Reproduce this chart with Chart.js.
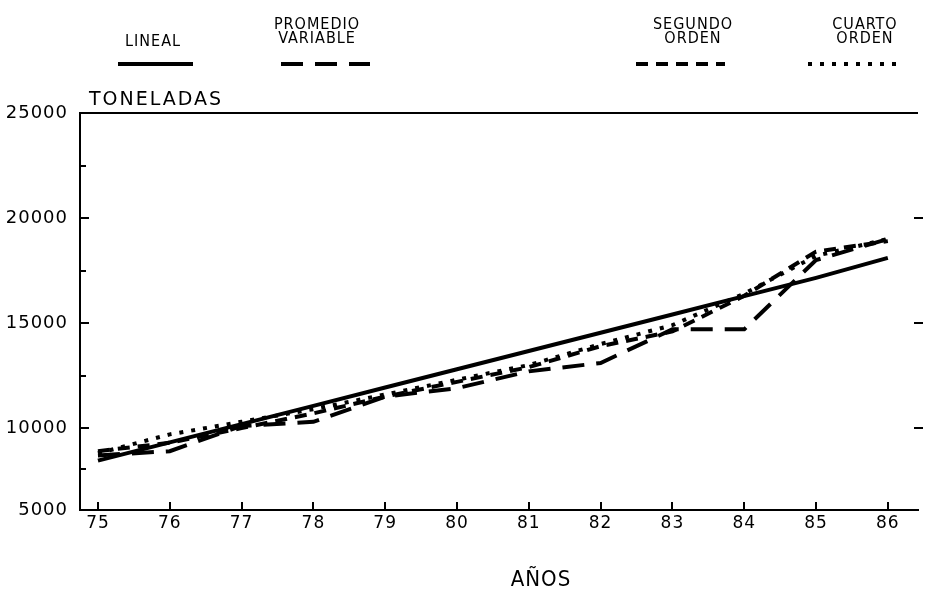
<!DOCTYPE html>
<html><head><meta charset="utf-8">
<script src="https://cdn.jsdelivr.net/npm/chart.js@4"></script>
<style>html,body{margin:0;padding:0;background:#fff}#wrap{width:928px;height:593px}</style>
</head><body><div id="wrap"><canvas id="c" width="928" height="593"></canvas></div>
<script>
const years = [75, 76, 77, 78, 79, 80, 81, 82, 83, 84, 85, 86];
const lineal = [8450, 9320, 10190, 11060, 11930, 12800, 13670, 14540, 15410, 16280, 17150, 18100];
const promedioVariable = [8700, 8900, 10100, 10300, 11500, 11900, 12700, 13100, 14700, 14700, 18000, 19000];
const segundoOrden = [8900, 9300, 10000, 10700, 11500, 12200, 12900, 13900, 14600, 16300, 18400, 18900];
const cuartoOrden = [8800, 9700, 10300, 10900, 11600, 12300, 13000, 14000, 14900, 16400, 18200, 19000];
const yTickLabels = ['5000', '10000', '15000', '20000', '25000'];
// the printed axis floor sits closer to 10000 than a true 5000 would (as in the source figure)
const yFloor = 6100;
const yTickValues = [yFloor, 10000, 15000, 20000, 25000];
const yLabel = 'TONELADAS';
const xLabel = 'AÑOS';

const pts = arr => arr.map((v, i) => ({x: years[i], y: v}));

const legendLayout = [
  {lines: ['LINEAL'], cx: 153, x0: 118, x1: 193},
  {lines: ['PROMEDIO', 'VARIABLE'], cx: 317, x0: 281, x1: 370},
  {lines: ['SEGUNDO', 'ORDEN'], cx: 693, x0: 636, x1: 725},
  {lines: ['CUARTO', 'ORDEN'], cx: 865, x0: 808, x1: 897}
];

const decor = {
  id: 'decor',
  beforeDraw(chart) { chart.ctx.letterSpacing = '1px'; },
  afterDraw(chart) {
    const {ctx, chartArea: a, scales: {x, y}} = chart;
    ctx.save();
    ctx.strokeStyle = '#000'; ctx.fillStyle = '#000'; ctx.lineWidth = 2; ctx.lineCap = 'butt';
    ctx.beginPath(); ctx.moveTo(a.left, a.top); ctx.lineTo(a.right, a.top); ctx.stroke();
    const minor = [(yFloor + 10000) / 2, 12500, 17500, 22500];
    [...minor, 10000, 15000, 20000].forEach(v => {
      const py = Math.round(y.getPixelForValue(v));
      const len = v % 5000 === 0 ? 9 : 6;
      ctx.beginPath(); ctx.moveTo(a.left, py); ctx.lineTo(a.left + len, py); ctx.stroke();
    });
    [10000, 15000, 20000].forEach(v => {
      const py = Math.round(y.getPixelForValue(v));
      ctx.beginPath(); ctx.moveTo(a.right - 4, py); ctx.lineTo(a.right + 5, py); ctx.stroke();
    });
    years.forEach(yr => {
      const px = Math.round(x.getPixelForValue(yr));
      ctx.beginPath(); ctx.moveTo(px, a.bottom); ctx.lineTo(px, a.bottom - 8); ctx.stroke();
    });
    ctx.letterSpacing = '2px';
    ctx.font = '19px "DejaVu Sans"';
    ctx.textAlign = 'left'; ctx.textBaseline = 'alphabetic';
    ctx.fillText(yLabel, a.left + 9, a.top - 8);
    ctx.letterSpacing = '1px';
    ctx.font = '22px "DejaVu Sans Condensed"';
    ctx.textAlign = 'center';
    ctx.fillText(xLabel, 541, 586);
    ctx.font = '16px "DejaVu Sans Condensed"';
    ctx.letterSpacing = '1px';
    chart.data.datasets.forEach((ds, i) => {
      const L = legendLayout[i];
      const rows = L.lines;
      const baseY = rows.length === 1 ? 46 : 29;
      rows.forEach((t, k) => ctx.fillText(t, L.cx, baseY + k * 14));
      ctx.save();
      ctx.lineWidth = 4;
      ctx.setLineDash(ds.borderDash || []);
      ctx.beginPath(); ctx.moveTo(L.x0, 64); ctx.lineTo(L.x1, 64); ctx.stroke();
      ctx.restore();
    });
    ctx.restore();
  }
};

const common = {borderColor: '#000', backgroundColor: '#000', borderWidth: 4, pointRadius: 0, tension: 0, fill: false};

new Chart(document.getElementById('c'), {
  type: 'line',
  data: {
    datasets: [
      {...common, label: 'LINEAL', data: pts(lineal), borderDash: []},
      {...common, label: 'PROMEDIO VARIABLE', data: pts(promedioVariable), borderDash: [22, 12]},
      {...common, label: 'SEGUNDO ORDEN', data: pts(segundoOrden), borderDash: [12, 8]},
      {...common, label: 'CUARTO ORDEN', data: pts(cuartoOrden), borderDash: [4, 8]}
    ]
  },
  options: {
    responsive: false, animation: false, devicePixelRatio: 1,
    layout: {padding: {top: 113, left: 0, right: 0, bottom: 0}},
    plugins: {legend: {display: false}, tooltip: {enabled: false}, title: {display: false}},
    scales: {
      x: {
        type: 'linear', min: 74.75, max: 86.42,
        afterFit: s => { s.height = 83; },
        afterBuildTicks: s => { s.ticks = years.map(v => ({value: v})); },
        grid: {display: false, drawTicks: false},
        border: {display: true, color: '#000', width: 2},
        ticks: {color: '#000', padding: 3, font: {family: 'DejaVu Sans', size: 17}, callback: v => String(v), maxRotation: 0, autoSkip: false}
      },
      y: {
        min: yFloor, max: 25000,
        afterFit: s => { s.width = 80; },
        afterBuildTicks: s => { s.ticks = yTickValues.map(v => ({value: v})); },
        grid: {display: false, drawTicks: false},
        border: {display: true, color: '#000', width: 2},
        ticks: {color: '#000', padding: 12, font: {family: 'DejaVu Sans', size: 18}, callback: (v, i) => yTickLabels[i]}
      },
      y2: {
        position: 'right', min: yFloor, max: 25000,
        afterFit: s => { s.width = 10; },
        grid: {display: false, drawTicks: false}, border: {display: false},
        ticks: {display: false}
      }
    }
  },
  plugins: [decor]
});
</script></body></html>
